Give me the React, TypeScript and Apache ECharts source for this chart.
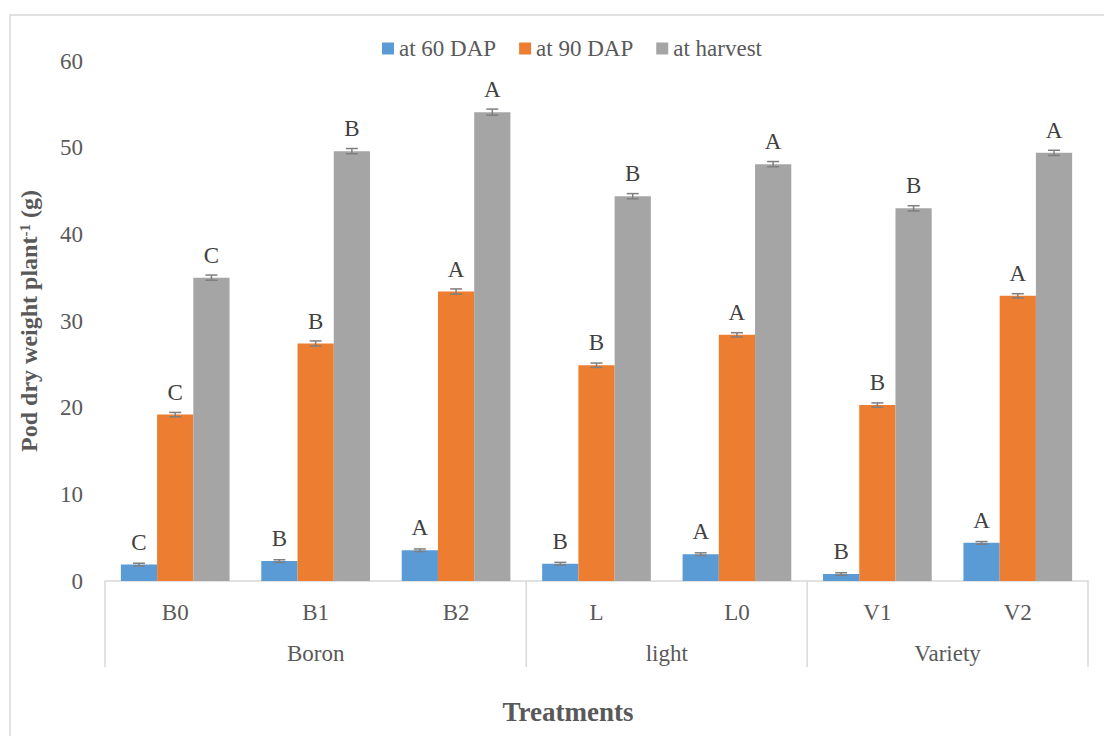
import React, { useEffect, useRef } from "react";
import * as echarts from "echarts";

const categories = ["B0", "B1", "B2", "L", "L0", "V1", "V2"];
const groups = [
  { name: "Boron", from: 0, to: 3 },
  { name: "light", from: 3, to: 5 },
  { name: "Variety", from: 5, to: 7 },
];
const seriesNames = ["at 60 DAP", "at 90 DAP", "at harvest"];
const dap60 = [1.9, 2.3, 3.55, 2.0, 3.1, 0.8, 4.4];
const dap90 = [19.2, 27.4, 33.4, 24.9, 28.4, 20.3, 32.9];
const harvest = [35.0, 49.6, 54.1, 44.4, 48.1, 43.0, 49.4];
const err60 = [0.15, 0.15, 0.15, 0.15, 0.15, 0.15, 0.15];
const err90 = [0.25, 0.3, 0.3, 0.25, 0.25, 0.25, 0.25];
const errHarvest = [0.3, 0.3, 0.35, 0.3, 0.3, 0.3, 0.3];
const letters60 = ["C", "B", "A", "B", "A", "B", "A"];
const letters90 = ["C", "B", "A", "B", "A", "B", "A"];
const lettersHarvest = ["C", "B", "A", "B", "A", "B", "A"];
const yTicks = [0, 10, 20, 30, 40, 50, 60];

const colors = ["#5B9BD5", "#ED7D31", "#A5A5A5"];
const FONT = "'Liberation Serif', 'Times New Roman', serif";
const TEXT = "#595959";
const CAT_GAP = 0.226;
const FS = 23;

export default function App() {
  const ref = useRef<HTMLDivElement>(null);
  useEffect(() => {
    document.body.style.margin = "0";
    const chart = echarts.init(ref.current!, null, { renderer: "svg" });
    const values = [dap60, dap90, harvest];
    const errs = [err60, err90, errHarvest];
    const letters = [letters60, letters90, lettersHarvest];

    const barSeries = values.map((v, i) => ({
      name: seriesNames[i],
      type: "bar",
      data: v,
      barGap: "0%",
      barCategoryGap: (CAT_GAP * 100).toFixed(1) + "%",
      itemStyle: { color: colors[i] },
      label: {
        show: true,
        position: "top",
        distance: 11,
        fontFamily: FONT,
        fontSize: FS,
        color: "#404040",
        formatter: (p: any) => letters[i][p.dataIndex],
      },
    }));

    const errSeries = values.map((v, i) => ({
      type: "custom",
      name: "err" + i,
      silent: true,
      z: 5,
      data: v.map((val, k) => [k, val - errs[i][k], val + errs[i][k]]),
      renderItem: (params: any, api: any) => {
        const k = api.value(0);
        const lo = api.coord([k, api.value(1)]);
        const hi = api.coord([k, api.value(2)]);
        const band = api.size([1, 0])[0];
        const bw = (band * (1 - CAT_GAP)) / 3;
        const x = lo[0] + (i - 1) * bw;
        const cap = 6;
        const style = { stroke: "#7F7F7F", lineWidth: 1.5, fill: "none" };
        return {
          type: "group",
          children: [
            { type: "line", shape: { x1: x, y1: lo[1], x2: x, y2: hi[1] }, style },
            { type: "line", shape: { x1: x - cap, y1: lo[1], x2: x + cap, y2: lo[1] }, style },
            { type: "line", shape: { x1: x - cap, y1: hi[1], x2: x + cap, y2: hi[1] }, style },
          ],
        };
      },
    }));

    chart.setOption({
      animation: false,
      grid: { left: 105, right: 16, top: 61, bottom: 155 },
      legend: {
        data: seriesNames,
        top: 32,
        left: 377,
        itemWidth: 12,
        itemHeight: 12,
        itemGap: 23,
        icon: "rect",
        textStyle: { fontFamily: FONT, fontSize: FS, color: TEXT },
      },
      xAxis: {
        type: "category",
        data: categories,
        axisLine: { lineStyle: { color: "#D9D9D9", width: 1.5 } },
        axisTick: { show: false },
        axisLabel: { fontFamily: FONT, fontSize: FS, color: TEXT, margin: 20 },
      },
      yAxis: {
        type: "value",
        min: yTicks[0],
        max: yTicks[yTicks.length - 1],
        interval: 10,
        axisLine: { show: false },
        axisTick: { show: false },
        splitLine: { show: false },
        axisLabel: { fontFamily: FONT, fontSize: FS, color: TEXT, margin: 22 },
        name: "{a|Pod dry weight plant}{s|-1}{a| (g)}",
        nameLocation: "middle",
        nameGap: 64,
        nameTextStyle: {
          rich: {
            a: { fontFamily: FONT, fontSize: 24, fontWeight: "bold", color: TEXT },
            s: { fontFamily: FONT, fontSize: 15, fontWeight: "bold", color: TEXT, verticalAlign: "top", padding: [0, 0, 8, 0] },
          },
        },
      },
      series: [...barSeries, ...errSeries],
    });

    const band = chart.convertToPixel({ xAxisIndex: 0 }, 1) - chart.convertToPixel({ xAxisIndex: 0 }, 0);
    const edge = (idx: number) => chart.convertToPixel({ xAxisIndex: 0 }, 0) - band / 2 + idx * band;
    const y0 = chart.convertToPixel({ yAxisIndex: 0 }, 0);
    const lineStyle = { stroke: "#D9D9D9", lineWidth: 1.5 };
    const boundaries = [0, 3, 5, 7];
    const graphics: any[] = [
      {
        type: "rect",
        shape: { x: 10, y: 15, width: 1110, height: 740 },
        style: { fill: "none", stroke: "#D9D9D9", lineWidth: 1.5 },
        silent: true,
      },
      ...boundaries.map((b) => ({
        type: "line",
        shape: { x1: edge(b), y1: y0, x2: edge(b), y2: y0 + 86 },
        style: lineStyle,
        silent: true,
      })),
      ...groups.map((g) => ({
        type: "text",
        x: (edge(g.from) + edge(g.to)) / 2,
        y: y0 + 72,
        style: {
          text: g.name,
          fontFamily: FONT,
          fontSize: FS,
          fill: TEXT,
          align: "center",
          verticalAlign: "middle",
        },
      })),
      {
        type: "text",
        x: 568,
        y: 712,
        style: {
          text: "Treatments",
          fontFamily: FONT,
          fontSize: 27,
          fontWeight: "bold",
          fill: TEXT,
          align: "center",
          verticalAlign: "middle",
        },
      },
    ];
    chart.setOption({ graphic: graphics });

    return () => chart.dispose();
  }, []);
  return <div ref={ref} style={{ position: "absolute", left: 0, top: 0, width: 1104, height: 736 }} />;
}
